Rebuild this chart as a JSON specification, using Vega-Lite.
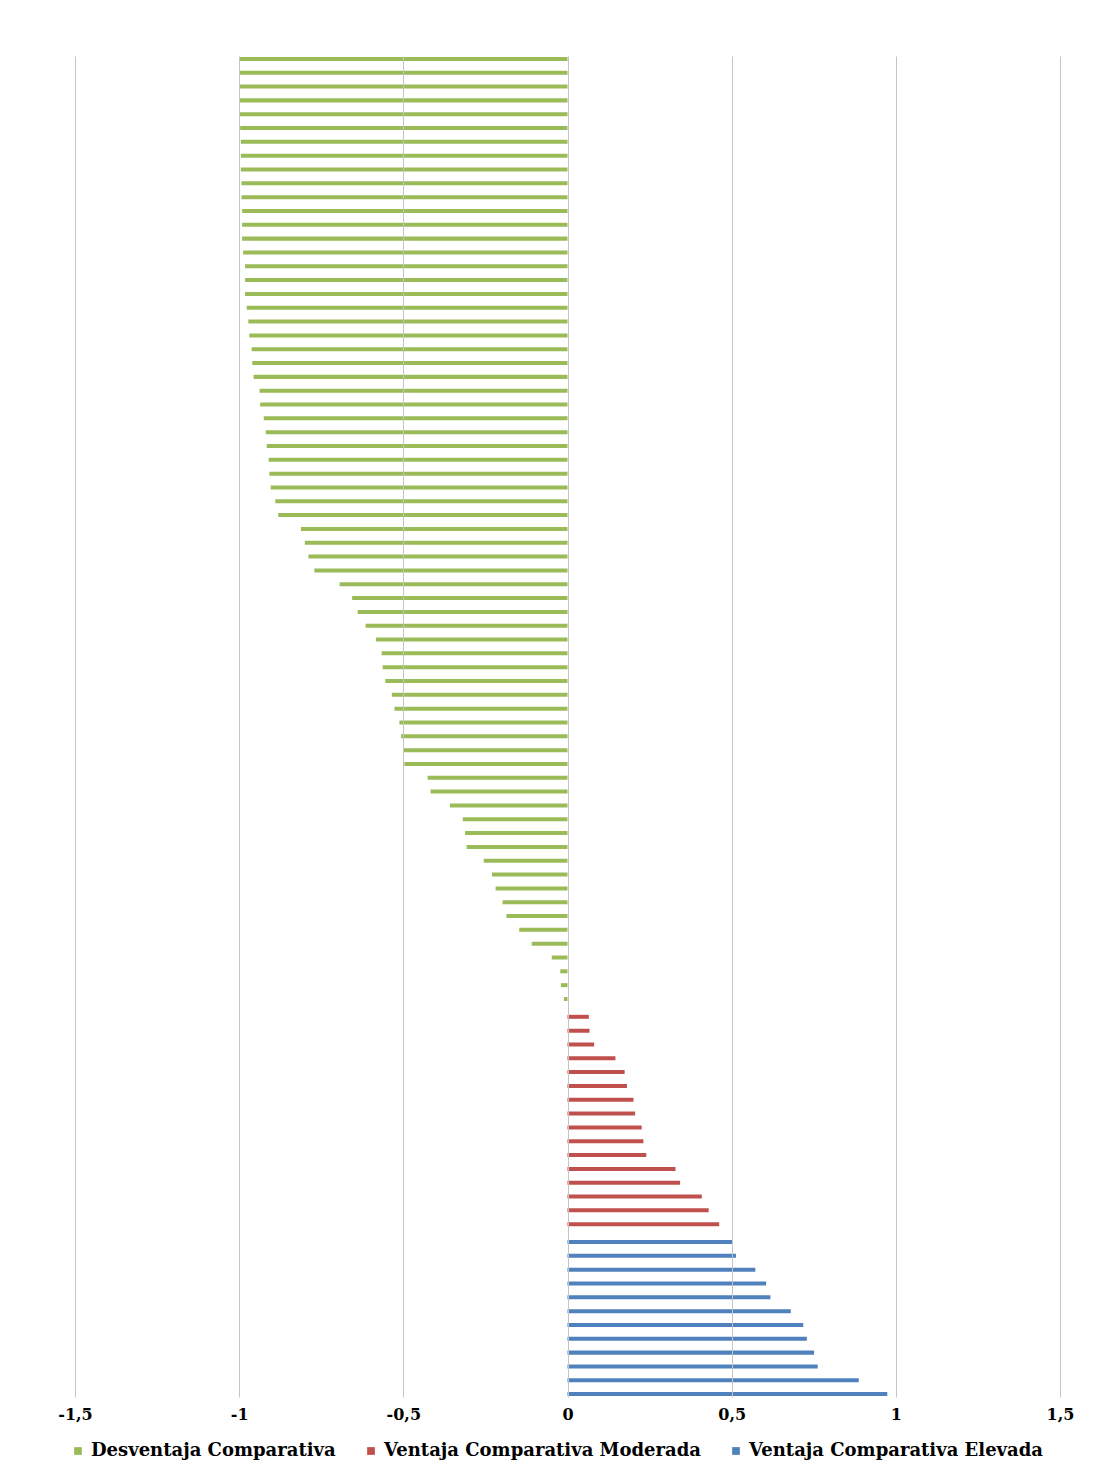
{
  "$schema": "https://vega.github.io/schema/vega-lite/v6.json",
  "autosize": {"type": "none"},
  "padding": {"left": 75, "top": 56, "right": 41, "bottom": 78},
  "width": 985,
  "height": 1341,
  "background": "white",
  "config": {"view": {"stroke": null}},
  "data": {
    "values": [
      {"cat": "01", "serie": "Desventaja Comparativa", "valor": -1.0},
      {"cat": "02", "serie": "Desventaja Comparativa", "valor": -1.0},
      {"cat": "03", "serie": "Desventaja Comparativa", "valor": -1.0},
      {"cat": "04", "serie": "Desventaja Comparativa", "valor": -1.0},
      {"cat": "05", "serie": "Desventaja Comparativa", "valor": -0.998},
      {"cat": "06", "serie": "Desventaja Comparativa", "valor": -0.997},
      {"cat": "07", "serie": "Desventaja Comparativa", "valor": -0.995},
      {"cat": "08", "serie": "Desventaja Comparativa", "valor": -0.995},
      {"cat": "09", "serie": "Desventaja Comparativa", "valor": -0.995},
      {"cat": "10", "serie": "Desventaja Comparativa", "valor": -0.993},
      {"cat": "11", "serie": "Desventaja Comparativa", "valor": -0.993},
      {"cat": "12", "serie": "Desventaja Comparativa", "valor": -0.991},
      {"cat": "13", "serie": "Desventaja Comparativa", "valor": -0.991},
      {"cat": "14", "serie": "Desventaja Comparativa", "valor": -0.991},
      {"cat": "15", "serie": "Desventaja Comparativa", "valor": -0.988},
      {"cat": "16", "serie": "Desventaja Comparativa", "valor": -0.982},
      {"cat": "17", "serie": "Desventaja Comparativa", "valor": -0.982},
      {"cat": "18", "serie": "Desventaja Comparativa", "valor": -0.982},
      {"cat": "19", "serie": "Desventaja Comparativa", "valor": -0.977},
      {"cat": "20", "serie": "Desventaja Comparativa", "valor": -0.972},
      {"cat": "21", "serie": "Desventaja Comparativa", "valor": -0.969},
      {"cat": "22", "serie": "Desventaja Comparativa", "valor": -0.962},
      {"cat": "23", "serie": "Desventaja Comparativa", "valor": -0.960},
      {"cat": "24", "serie": "Desventaja Comparativa", "valor": -0.956},
      {"cat": "25", "serie": "Desventaja Comparativa", "valor": -0.938},
      {"cat": "26", "serie": "Desventaja Comparativa", "valor": -0.936},
      {"cat": "27", "serie": "Desventaja Comparativa", "valor": -0.925},
      {"cat": "28", "serie": "Desventaja Comparativa", "valor": -0.919},
      {"cat": "29", "serie": "Desventaja Comparativa", "valor": -0.916},
      {"cat": "30", "serie": "Desventaja Comparativa", "valor": -0.910},
      {"cat": "31", "serie": "Desventaja Comparativa", "valor": -0.908},
      {"cat": "32", "serie": "Desventaja Comparativa", "valor": -0.904},
      {"cat": "33", "serie": "Desventaja Comparativa", "valor": -0.890},
      {"cat": "34", "serie": "Desventaja Comparativa", "valor": -0.881},
      {"cat": "35", "serie": "Desventaja Comparativa", "valor": -0.812},
      {"cat": "36", "serie": "Desventaja Comparativa", "valor": -0.800},
      {"cat": "37", "serie": "Desventaja Comparativa", "valor": -0.789},
      {"cat": "38", "serie": "Desventaja Comparativa", "valor": -0.771},
      {"cat": "39", "serie": "Desventaja Comparativa", "valor": -0.694},
      {"cat": "40", "serie": "Desventaja Comparativa", "valor": -0.656},
      {"cat": "41", "serie": "Desventaja Comparativa", "valor": -0.639},
      {"cat": "42", "serie": "Desventaja Comparativa", "valor": -0.615},
      {"cat": "43", "serie": "Desventaja Comparativa", "valor": -0.583},
      {"cat": "44", "serie": "Desventaja Comparativa", "valor": -0.566},
      {"cat": "45", "serie": "Desventaja Comparativa", "valor": -0.563},
      {"cat": "46", "serie": "Desventaja Comparativa", "valor": -0.555},
      {"cat": "47", "serie": "Desventaja Comparativa", "valor": -0.535},
      {"cat": "48", "serie": "Desventaja Comparativa", "valor": -0.527},
      {"cat": "49", "serie": "Desventaja Comparativa", "valor": -0.512},
      {"cat": "50", "serie": "Desventaja Comparativa", "valor": -0.507},
      {"cat": "51", "serie": "Desventaja Comparativa", "valor": -0.501},
      {"cat": "52", "serie": "Desventaja Comparativa", "valor": -0.497},
      {"cat": "53", "serie": "Desventaja Comparativa", "valor": -0.426},
      {"cat": "54", "serie": "Desventaja Comparativa", "valor": -0.417},
      {"cat": "55", "serie": "Desventaja Comparativa", "valor": -0.358},
      {"cat": "56", "serie": "Desventaja Comparativa", "valor": -0.319},
      {"cat": "57", "serie": "Desventaja Comparativa", "valor": -0.312},
      {"cat": "58", "serie": "Desventaja Comparativa", "valor": -0.307},
      {"cat": "59", "serie": "Desventaja Comparativa", "valor": -0.255},
      {"cat": "60", "serie": "Desventaja Comparativa", "valor": -0.230},
      {"cat": "61", "serie": "Desventaja Comparativa", "valor": -0.219},
      {"cat": "62", "serie": "Desventaja Comparativa", "valor": -0.198},
      {"cat": "63", "serie": "Desventaja Comparativa", "valor": -0.186},
      {"cat": "64", "serie": "Desventaja Comparativa", "valor": -0.147},
      {"cat": "65", "serie": "Desventaja Comparativa", "valor": -0.109},
      {"cat": "66", "serie": "Desventaja Comparativa", "valor": -0.048},
      {"cat": "67", "serie": "Desventaja Comparativa", "valor": -0.022},
      {"cat": "68", "serie": "Desventaja Comparativa", "valor": -0.020},
      {"cat": "69", "serie": "Desventaja Comparativa", "valor": -0.011},
      {"cat": "70", "serie": "Ventaja Comparativa Moderada", "valor": 0.065},
      {"cat": "71", "serie": "Ventaja Comparativa Moderada", "valor": 0.067},
      {"cat": "72", "serie": "Ventaja Comparativa Moderada", "valor": 0.081},
      {"cat": "73", "serie": "Ventaja Comparativa Moderada", "valor": 0.146},
      {"cat": "74", "serie": "Ventaja Comparativa Moderada", "valor": 0.174},
      {"cat": "75", "serie": "Ventaja Comparativa Moderada", "valor": 0.181},
      {"cat": "76", "serie": "Ventaja Comparativa Moderada", "valor": 0.201},
      {"cat": "77", "serie": "Ventaja Comparativa Moderada", "valor": 0.206},
      {"cat": "78", "serie": "Ventaja Comparativa Moderada", "valor": 0.226},
      {"cat": "79", "serie": "Ventaja Comparativa Moderada", "valor": 0.231},
      {"cat": "80", "serie": "Ventaja Comparativa Moderada", "valor": 0.240},
      {"cat": "81", "serie": "Ventaja Comparativa Moderada", "valor": 0.329},
      {"cat": "82", "serie": "Ventaja Comparativa Moderada", "valor": 0.343},
      {"cat": "83", "serie": "Ventaja Comparativa Moderada", "valor": 0.409},
      {"cat": "84", "serie": "Ventaja Comparativa Moderada", "valor": 0.430},
      {"cat": "85", "serie": "Ventaja Comparativa Moderada", "valor": 0.462},
      {"cat": "86", "serie": "Ventaja Comparativa Elevada", "valor": 0.502},
      {"cat": "87", "serie": "Ventaja Comparativa Elevada", "valor": 0.513},
      {"cat": "88", "serie": "Ventaja Comparativa Elevada", "valor": 0.572},
      {"cat": "89", "serie": "Ventaja Comparativa Elevada", "valor": 0.605},
      {"cat": "90", "serie": "Ventaja Comparativa Elevada", "valor": 0.618},
      {"cat": "91", "serie": "Ventaja Comparativa Elevada", "valor": 0.680},
      {"cat": "92", "serie": "Ventaja Comparativa Elevada", "valor": 0.718},
      {"cat": "93", "serie": "Ventaja Comparativa Elevada", "valor": 0.729},
      {"cat": "94", "serie": "Ventaja Comparativa Elevada", "valor": 0.751},
      {"cat": "95", "serie": "Ventaja Comparativa Elevada", "valor": 0.762},
      {"cat": "96", "serie": "Ventaja Comparativa Elevada", "valor": 0.887},
      {"cat": "97", "serie": "Ventaja Comparativa Elevada", "valor": 0.974}
    ]
  },
  "mark": {"type": "bar"},
  "encoding": {
    "y": {
      "field": "cat",
      "type": "nominal",
      "sort": null,
      "axis": null,
      "scale": {"paddingInner": 0.13, "paddingOuter": 0.065}
    },
    "yOffset": {
      "field": "serie",
      "type": "nominal",
      "sort": ["Desventaja Comparativa", "Ventaja Comparativa Moderada", "Ventaja Comparativa Elevada"],
      "scale": {"paddingInner": 0, "paddingOuter": 0}
    },
    "x": {
      "field": "valor",
      "type": "quantitative",
      "scale": {"domain": [-1.5, 1.5], "nice": false, "zero": false},
      "axis": {
        "title": null,
        "values": [-1.5, -1, -0.5, 0, 0.5, 1, 1.5],
        "labelExpr": "replace(toString(datum.value), '.', ',')",
        "domain": false,
        "ticks": false,
        "grid": true,
        "gridColor": "#C4C4C4",
        "gridWidth": 1,
        "labelFont": "DejaVu Serif",
        "labelFontWeight": "bold",
        "labelFontSize": 16,
        "labelColor": "black",
        "labelPadding": 9,
        "labelFlush": false,
        "zindex": 1
      }
    },
    "color": {
      "field": "serie",
      "type": "nominal",
      "scale": {
        "domain": ["Desventaja Comparativa", "Ventaja Comparativa Moderada", "Ventaja Comparativa Elevada"],
        "range": ["#9BBB59", "#C0504D", "#4F81BD"]
      },
      "legend": {
        "title": null,
        "orient": "none",
        "direction": "horizontal",
        "legendX": -6,
        "legendY": 1386,
        "symbolType": "square",
        "symbolSize": 60,
        "symbolStrokeWidth": 0,
        "labelFont": "DejaVu Serif",
        "labelFontWeight": "bold",
        "labelFontSize": 18,
        "labelColor": "black",
        "labelOffset": 4,
        "labelLimit": 400,
        "columnPadding": 26
      }
    }
  }
}
